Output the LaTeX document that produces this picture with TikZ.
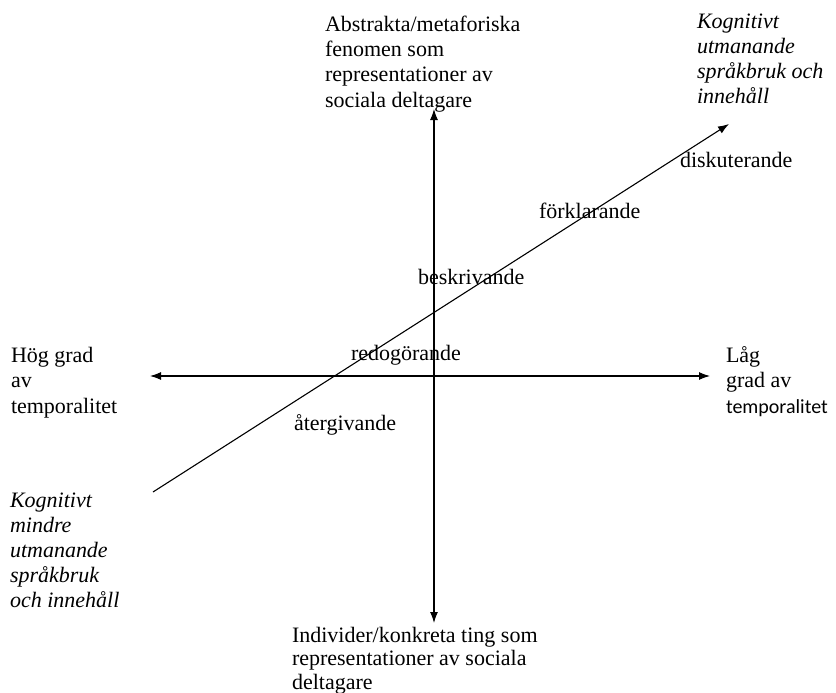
\documentclass[tikz,border=0pt]{standalone}
\usepackage{fontspec}
\setmainfont{Liberation Serif}[ItalicFont=Liberation Serif Italic]
\newfontfamily\labelsans{Carlito}
\usetikzlibrary{arrows.meta}
\begin{document}
\begin{tikzpicture}[x=1pt,y=-1pt,
  every node/.style={inner sep=0pt,outer sep=0pt},
  % anchor base west sits on the baseline of the last line
  lbl/.style={font=\fontsize{22}{25.3}\selectfont,align=left,anchor=base west},
  side/.style={font=\fontsize{22}{25.3}\selectfont,align=left,anchor=base west},
  ilbl/.style={font=\fontsize{22}{24.8}\selectfont\itshape,align=left,anchor=base west},
  axis/.style={line width=1.1pt,-{Latex[length=11pt,width=8pt]}}]
\useasboundingbox[fill=white] (0,0) rectangle (836,693);

% axis end points
\coordinate (origin) at (434,376);
\coordinate (vtop) at (434,109);
\coordinate (vbot) at (434,623);
\coordinate (hleft) at (150,376);
\coordinate (hright) at (710,376);
\coordinate (dlow) at (153,492);
\coordinate (dhigh) at (729,124);

% axes
\draw[axis] (origin) -- (vtop);
\draw[axis] (origin) -- (vbot);
\draw[axis] (origin) -- (hleft);
\draw[axis] (origin) -- (hright);
\draw[axis] (dlow) -- (dhigh);

% end labels
\node[lbl] (abstr) at (325,107) {Abstrakta/metaforiska\\fenomen som\\representationer av\\sociala deltagare};
\node[lbl,font=\fontsize{22}{23.5}\selectfont] (indiv) at (292,689) {Individer/konkreta ting som\\representationer av sociala\\deltagare};
\node[side] (hog) at (11,413) {Hög grad\\av\\temporalitet};
\node[side] (lag) at (726,413) {Låg\\grad av\\{\labelsans\fontsize{20}{25.3}\selectfont temporalitet}};
\node[ilbl] (hard) at (697,103) {Kognitivt\\utmanande\\språkbruk och\\innehåll};
\node[ilbl] (easy) at (10,607) {Kognitivt\\mindre\\utmanande\\språkbruk\\och innehåll};

% stages along the diagonal
\node[lbl] (disk) at (680,167) {diskuterande};
\node[lbl] (fork) at (539,218) {förklarande};
\node[lbl] (besk) at (418,284) {beskrivande};
\node[lbl] (redo) at (351,360) {redogörande};
\node[lbl] (ater) at (294,430) {återgivande};
\end{tikzpicture}
\end{document}
